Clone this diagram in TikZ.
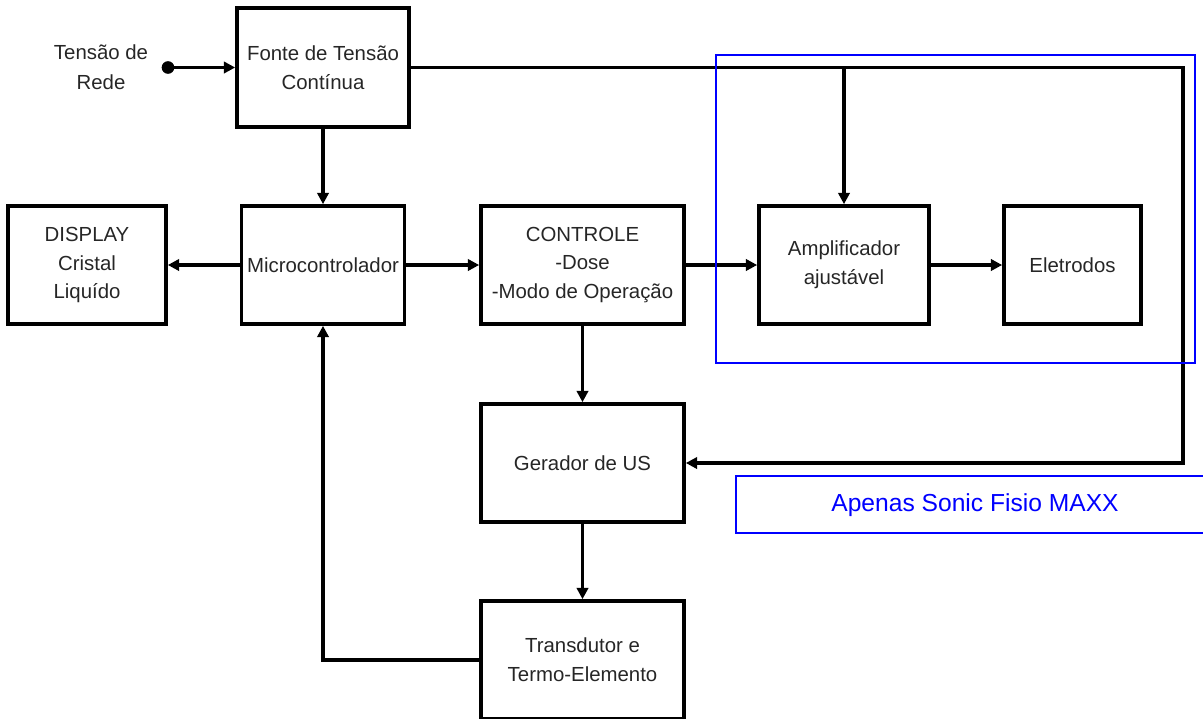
\documentclass[tikz,border=0pt]{standalone}
\usepackage{fontspec}
\setmainfont{Liberation Sans}
\usetikzlibrary{arrows.meta}

\begin{document}
\begin{tikzpicture}[x=0.025cm,y=-0.025cm,
  blk/.style={draw,line width=2.6pt,minimum width=#1*0.025cm,minimum height=118*0.025cm,
    align=center,inner sep=0pt,text=black!85,font=\fontsize{14.5}{20.5}\selectfont},
  arr/.style={line width=2.4pt,-{Triangle[length=8pt,width=8pt]}}]
  \useasboundingbox (0,0) rectangle (1203,718);
  \node[blk=172,minimum height=119*0.025cm] (F) at (323,67.5) {Fonte de Tensão\\Contínua};
  \node[blk=158] (D) at (87,265) {DISPLAY\\Cristal\\Liquído};
  \node[blk=163] (M) at (323,265) {Microcontrolador};
  \node[blk=203] (C) at (582.5,265) {CONTROLE\\-Dose\\-Modo de Operação};
  \node[blk=170] (A) at (844,265) {Amplificador\\ajustável};
  \node[blk=137] (E) at (1072.5,265) {Eletrodos};
  \node[blk=203] (G) at (582.5,463) {Gerador de US};
  \node[blk=203] (T) at (582.5,660) {Transdutor e\\Termo-Elemento};
  \node[align=center,text=black!85,font=\fontsize{14.5}{21}\selectfont] (R) at (101,67) {Tensão de\\Rede};
  \coordinate (P) at (168,67.5);
  \coordinate (K) at (1183,67.5);
  \fill (P) circle (4.5pt);
  \draw[arr] (P) -- (F.west);
  \draw[arr] (F.east) -- (K) |- (G.east);
  \draw[arr] (A.north |- F.east) -- (A.north);
  \draw[arr] (F.south) -- (M.north);
  \draw[arr] (M.west) -- (D.east);
  \draw[arr] (M.east) -- (C.west);
  \draw[arr] (C.east) -- (A.west);
  \draw[arr] (A.east) -- (E.west);
  \draw[arr] (C.south) -- (G.north);
  \draw[arr] (G.south) -- (T.north);
  \draw[arr] (T.west) -| (M.south);
  \draw[blue,line width=1.8pt] (716,55) rectangle (1195,363);
  \draw[blue,line width=1.8pt] (1215,476) -- (736,476) -- (736,533) -- (1215,533);
  \node[text=blue,font=\fontsize{17.5}{20}\selectfont] (L) at (975,505) {Apenas Sonic Fisio MAXX};
\end{tikzpicture}
\end{document}
